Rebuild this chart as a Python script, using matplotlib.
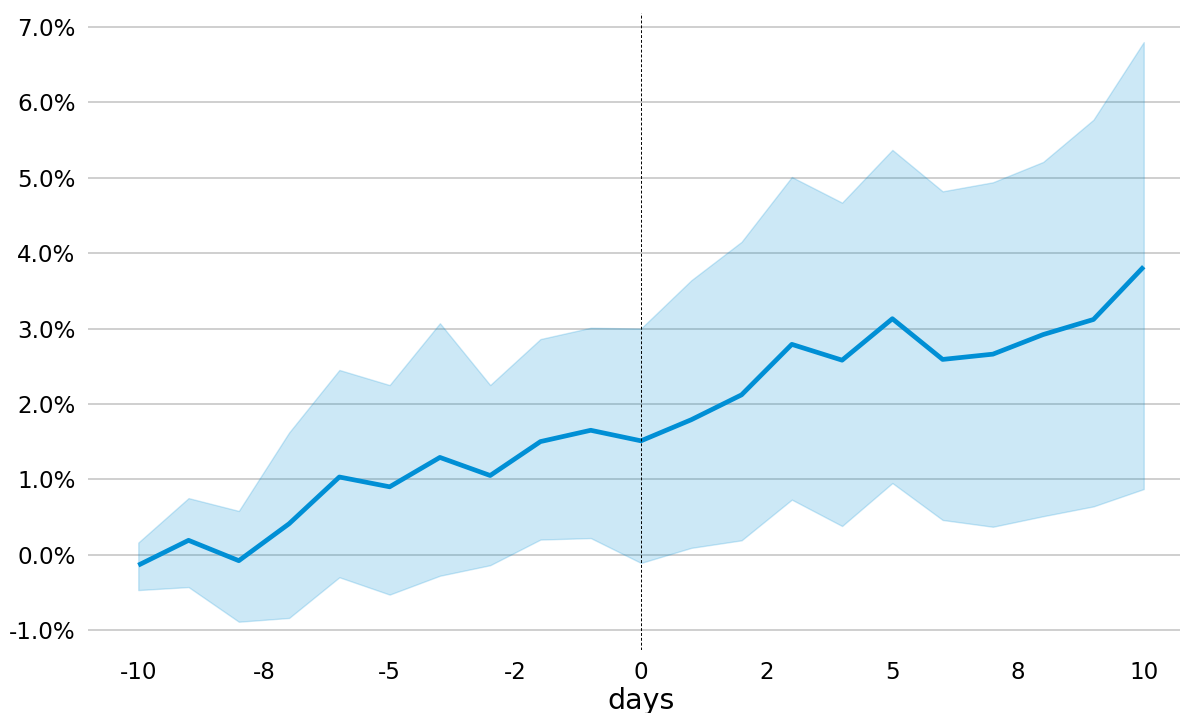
import numpy as np
import matplotlib
matplotlib.use("Agg")
import matplotlib.pyplot as plt
from matplotlib.ticker import FuncFormatter, FixedLocator

# Event window (days relative to the event) and cumulative return stats, in percent
days = [-10, -9, -8, -7, -6, -5, -4, -3, -2, -1, 0, 1, 2, 3, 4, 5, 6, 7, 8, 9, 10]
mean_ret = [-0.14, 0.19, -0.08, 0.41, 1.03, 0.90, 1.29, 1.05, 1.50, 1.65, 1.51,
            1.79, 2.12, 2.79, 2.58, 3.13, 2.59, 2.66, 2.92, 3.12, 3.82]
upper_ret = [0.16, 0.75, 0.58, 1.62, 2.45, 2.25, 3.07, 2.25, 2.86, 3.01, 3.00,
             3.64, 4.15, 5.01, 4.67, 5.37, 4.82, 4.94, 5.21, 5.77, 6.80]
lower_ret = [-0.47, -0.43, -0.89, -0.84, -0.30, -0.53, -0.28, -0.14, 0.20, 0.22, -0.11,
             0.09, 0.19, 0.73, 0.38, 0.95, 0.46, 0.37, 0.51, 0.64, 0.87]
x_ticks = [-10, -7.5, -5, -2.5, 0, 2.5, 5, 7.5, 10]
y_ticks = [-1, 0, 1, 2, 3, 4, 5, 6, 7]

blue = "#008fd5"

fig = plt.figure(figsize=(11.8, 7.13), dpi=100)
fig.patch.set_facecolor("white")
ax = fig.add_axes([88 / 1180, 63 / 713, (1194 - 88) / 1180, 637 / 713])
ax.set_facecolor("white")
ax.set_axisbelow(True)

ax.fill_between(days, lower_ret, upper_ret, color=blue, alpha=0.2)
ax.plot(days, mean_ret, color=blue, lw=3.4, solid_capstyle="butt")
ax.axvline(0, color="black", lw=0.7, ls=(0, (3, 2)))

ax.set_xlim(-11, 11)
ax.set_ylim(-1.265, 7.186)

ax.xaxis.set_major_locator(FixedLocator(x_ticks))
ax.yaxis.set_major_locator(FixedLocator(y_ticks))
ax.xaxis.set_major_formatter(FuncFormatter(lambda v, p: "{:.0f}".format(v)))
ax.yaxis.set_major_formatter(FuncFormatter(lambda v, p: "{:.1f}%".format(v)))

ax.grid(axis="y", color="#cbcbcb", lw=1.3)
ax.grid(axis="x", visible=False)
for s in ax.spines.values():
    s.set_visible(False)
ax.tick_params(axis="both", length=0, labelsize=16.6, colors="black")
ax.tick_params(axis="y", pad=9)
ax.tick_params(axis="x", pad=8)

ax.set_xlabel("days", fontsize=20.5, labelpad=2)

fig.savefig("out.png", dpi=100, facecolor="white")
